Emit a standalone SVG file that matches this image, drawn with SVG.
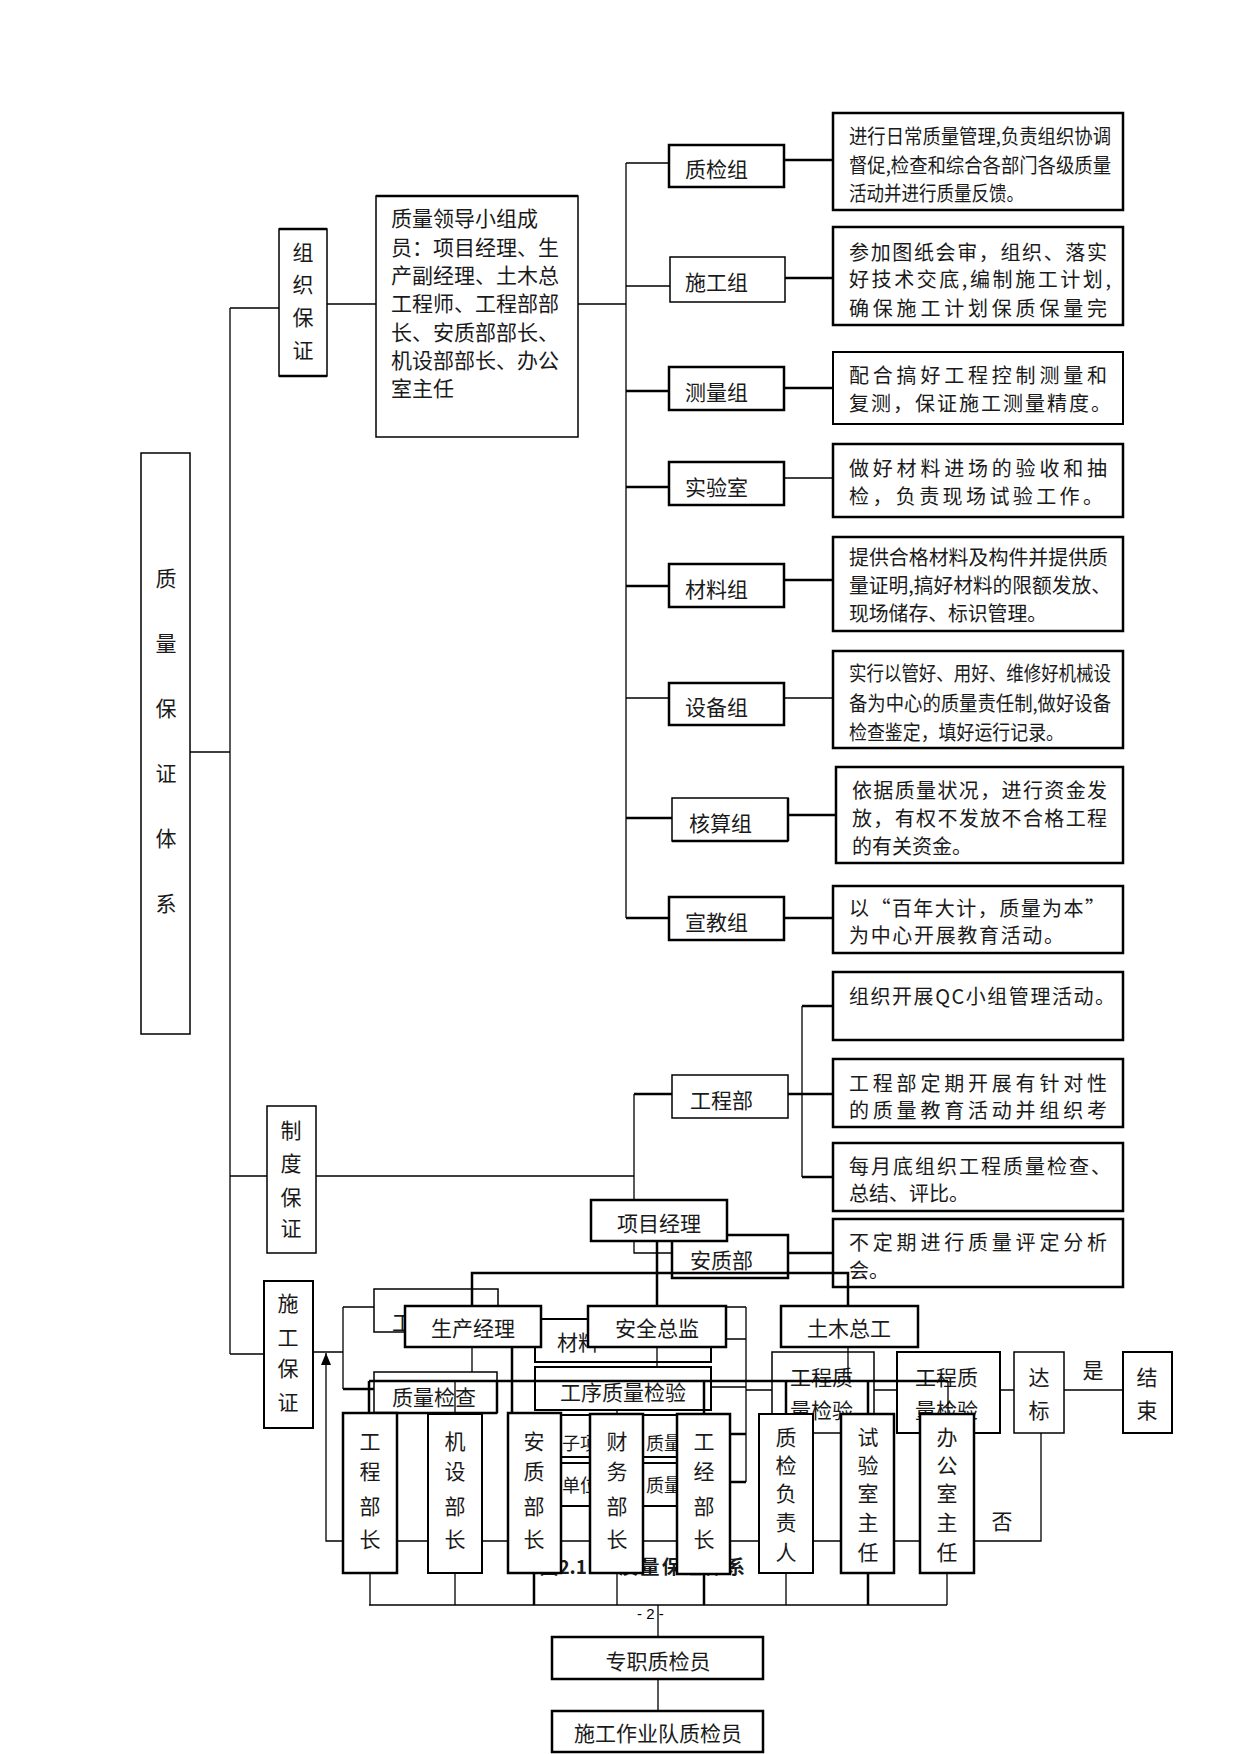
<svg xmlns="http://www.w3.org/2000/svg" width="1241" height="1754" viewBox="0 0 1241 1754">
<style>
.b{fill:#fff;stroke:#000;stroke-width:1.5}
.bt{fill:#fff;stroke:#000;stroke-width:2.5}
.t{font-family:"Noto Sans CJK SC","Liberation Sans",sans-serif;font-size:21px;fill:#1a1a1a}
.s{font-size:20px}
.m{font-size:18px}
.c{text-anchor:middle}
.bd{font-weight:bold;font-size:19px}
.ln{stroke:#000;stroke-width:1.3;fill:none}
.lt{stroke:#000;stroke-width:2.5;fill:none}
</style>
<defs>
<marker id="arr" markerWidth="12" markerHeight="12" refX="12" refY="5" orient="auto" markerUnits="userSpaceOnUse"><path d="M0,0 L12,5 L0,10 z" fill="#000"/></marker>
</defs>
<rect width="1241" height="1754" fill="#fff"/>

<!-- lower layer nodes -->
<g id="n-main"><rect class="b" x="141" y="453" width="49" height="581"/>
<text class="t c"><tspan x="166" y="586">质</tspan><tspan x="166" y="651">量</tspan><tspan x="166" y="716">保</tspan><tspan x="166" y="781">证</tspan><tspan x="166" y="846">体</tspan><tspan x="166" y="911">系</tspan></text></g>

<g id="n-zuzhi"><rect class="b" x="279" y="229" width="48" height="147"/><line class="lt" x1="279" y1="229" x2="327" y2="229"/><line class="lt" x1="279" y1="376" x2="327" y2="376"/>
<text class="t c"><tspan x="303" y="260">组</tspan><tspan x="303" y="292">织</tspan><tspan x="303" y="325">保</tspan><tspan x="303" y="358">证</tspan></text></g>

<g id="n-lingdao"><rect class="b" x="376" y="196" width="202" height="241"/><line class="lt" x1="376" y1="196" x2="578" y2="196"/>
<text class="t"><tspan x="391" y="226">质量领导小组成</tspan><tspan x="391" y="255">员：项目经理、生</tspan><tspan x="391" y="283">产副经理、土木总</tspan><tspan x="391" y="311">工程师、工程部部</tspan><tspan x="391" y="340">长、安质部部长、</tspan><tspan x="391" y="368">机设部部长、办公</tspan><tspan x="391" y="396">室主任</tspan></text></g>

<g id="n-zhijian"><rect class="bt" x="669" y="145" width="115" height="42"/><text class="t" x="685" y="177">质检组</text></g>
<g id="n-shigong"><rect class="b" x="670" y="257" width="115" height="45"/><text class="t" x="685" y="290">施工组</text></g>
<g id="n-celiang"><rect class="bt" x="669" y="367" width="115" height="43"/><text class="t" x="685" y="400">测量组</text></g>
<g id="n-shiyan"><rect class="bt" x="669" y="462" width="115" height="43"/><text class="t" x="685" y="495">实验室</text></g>
<g id="n-cailiao"><rect class="bt" x="669" y="564" width="115" height="43"/><text class="t" x="685" y="597">材料组</text></g>
<g id="n-shebei"><rect class="bt" x="669" y="683" width="115" height="42"/><text class="t" x="685" y="715">设备组</text></g>
<g id="n-hesuan"><rect class="b" x="672" y="798" width="116" height="43"/><line class="lt" x1="788" y1="798" x2="788" y2="841"/><line class="lt" x1="672" y1="841" x2="788" y2="841"/><text class="t" x="689" y="831">核算组</text></g>
<g id="n-xuanjiao"><rect class="bt" x="669" y="897" width="115" height="43"/><text class="t" x="685" y="930">宣教组</text></g>

<g id="d1"><rect class="bt" x="833" y="113" width="290" height="97"/>
<text class="t s"><tspan x="849" y="144" textLength="262" lengthAdjust="spacingAndGlyphs">进行日常质量管理,负责组织协调</tspan><tspan x="849" y="173" textLength="262" lengthAdjust="spacingAndGlyphs">督促,检查和综合各部门各级质量</tspan><tspan x="849" y="201" textLength="175" lengthAdjust="spacingAndGlyphs">活动并进行质量反馈。</tspan></text></g>
<g id="d2"><rect class="bt" x="833" y="227" width="290" height="98"/>
<text class="t s"><tspan x="849" y="260" textLength="258">参加图纸会审，组织、落实</tspan><tspan x="849" y="287" textLength="262">好技术交底,编制施工计划,</tspan><tspan x="849" y="316" textLength="258">确保施工计划保质保量完</tspan></text></g>
<g id="d3"><rect class="b" x="833" y="352" width="290" height="72" style="stroke-width:2"/>
<text class="t s"><tspan x="849" y="383" textLength="258">配合搞好工程控制测量和</tspan><tspan x="849" y="411" textLength="262">复测，保证施工测量精度。</tspan></text></g>
<g id="d4"><rect class="bt" x="833" y="444" width="290" height="73"/>
<text class="t s"><tspan x="849" y="476" textLength="258">做好材料进场的验收和抽</tspan><tspan x="849" y="504" textLength="254">检，负责现场试验工作。</tspan></text></g>
<g id="d5"><rect class="bt" x="833" y="537" width="290" height="94"/>
<text class="t s"><tspan x="849" y="565" textLength="259" lengthAdjust="spacingAndGlyphs">提供合格材料及构件并提供质</tspan><tspan x="849" y="593" textLength="262" lengthAdjust="spacingAndGlyphs">量证明,搞好材料的限额发放、</tspan><tspan x="849" y="621" textLength="198" lengthAdjust="spacingAndGlyphs">现场储存、标识管理。</tspan></text></g>
<g id="d6"><rect class="bt" x="833" y="651" width="290" height="97"/>
<text class="t s"><tspan x="849" y="681" textLength="262" lengthAdjust="spacingAndGlyphs">实行以管好、用好、维修好机械设</tspan><tspan x="849" y="711" textLength="262" lengthAdjust="spacingAndGlyphs">备为中心的质量责任制,做好设备</tspan><tspan x="849" y="740" textLength="215" lengthAdjust="spacingAndGlyphs">检查鉴定，填好运行记录。</tspan></text></g>
<g id="d7"><rect class="bt" x="836" y="767" width="287" height="96"/>
<text class="t s"><tspan x="852" y="798" textLength="255">依据质量状况，进行资金发</tspan><tspan x="852" y="826" textLength="255">放，有权不发放不合格工程</tspan><tspan x="852" y="854">的有关资金。</tspan></text></g>
<g id="d8"><rect class="bt" x="833" y="886" width="290" height="67"/>
<text class="t s"><tspan x="849" y="916" textLength="256">以“百年大计，质量为本”</tspan><tspan x="849" y="943" textLength="215">为中心开展教育活动。</tspan></text></g>
<g id="d9"><rect class="bt" x="833" y="972" width="290" height="68"/>
<text class="t s" x="849" y="1004" textLength="266">组织开展QC小组管理活动。</text></g>
<g id="d10"><rect class="bt" x="833" y="1059" width="290" height="68"/>
<text class="t s"><tspan x="849" y="1091" textLength="258">工程部定期开展有针对性</tspan><tspan x="849" y="1118" textLength="258">的质量教育活动并组织考</tspan></text></g>
<g id="d11"><rect class="bt" x="833" y="1143" width="290" height="68"/>
<text class="t s"><tspan x="849" y="1174" textLength="262">每月底组织工程质量检查、</tspan><tspan x="849" y="1201">总结、评比。</tspan></text></g>
<g id="d12"><rect class="bt" x="833" y="1219" width="290" height="68"/>
<text class="t s"><tspan x="849" y="1250" textLength="258">不定期进行质量评定分析</tspan><tspan x="849" y="1278">会。</tspan></text></g>

<g id="n-zhidu"><rect class="b" x="267" y="1106" width="49" height="147"/>
<text class="t c"><tspan x="291" y="1138">制</tspan><tspan x="291" y="1171">度</tspan><tspan x="291" y="1205">保</tspan><tspan x="291" y="1236">证</tspan></text></g>
<g id="n-shigongbz"><rect class="b" x="264" y="1281" width="49" height="147" style="stroke-width:2"/>
<text class="t c"><tspan x="288" y="1311">施</tspan><tspan x="288" y="1345">工</tspan><tspan x="288" y="1376">保</tspan><tspan x="288" y="1410">证</tspan></text></g>

<g id="n-gongchengbu"><rect class="b" x="672" y="1075" width="116" height="43"/><text class="t" x="690" y="1108">工程部</text></g>
<g id="n-anzhibu"><rect class="bt" x="672" y="1235" width="116" height="43"/><text class="t" x="690" y="1268">安质部</text></g>

<g id="n-gong-hidden"><rect class="b" x="374" y="1289" width="124" height="43"/><text class="t" x="392" y="1330">工</text></g>
<g id="n-cailiao-hidden"><rect class="b" x="535" y="1319" width="176" height="43" style="stroke-width:2"/><text class="t" x="557" y="1350">材料</text></g>
<g id="n-zhiliangjiancha"><rect class="b" x="374" y="1372" width="123" height="41"/><line class="lt" x1="374" y1="1413" x2="497" y2="1413"/><line class="lt" x1="497" y1="1381" x2="497" y2="1413"/><text class="t c" x="434" y="1405">质量检查</text></g>
<g id="n-gongxu"><rect class="b" x="535" y="1367" width="176" height="43" style="stroke-width:2"/><text class="t c" x="623" y="1400">工序质量检验</text></g>
<g id="n-gcA"><rect class="b" x="772" y="1352" width="102" height="81"/><text class="t"><tspan x="790" y="1385">工程质</tspan><tspan x="790" y="1418">量检验</tspan></text></g>
<g id="n-gcB"><rect class="b" x="897" y="1352" width="103" height="81" style="stroke-width:2"/><text class="t"><tspan x="915" y="1385">工程质</tspan><tspan x="915" y="1418">量检验</tspan></text></g>
<g id="n-dabiao"><rect class="b" x="1014" y="1352" width="50" height="81"/><text class="t c"><tspan x="1039" y="1385">达</tspan><tspan x="1039" y="1418">标</tspan></text></g>
<g id="n-jieshu"><rect class="b" x="1123" y="1352" width="49" height="81" style="stroke-width:2"/><text class="t c"><tspan x="1147" y="1385">结</tspan><tspan x="1147" y="1418">束</tspan></text></g>
<g id="n-ziixiang"><rect class="b" x="545" y="1415" width="155" height="42" style="stroke-width:2"/><text class="t m" x="562" y="1450">子项</text><text class="t m" x="646" y="1450">质量</text></g>
<g id="n-danwei"><rect class="b" x="545" y="1463" width="155" height="43" style="stroke-width:2"/><text class="t m" x="562" y="1492">单位</text><text class="t m" x="646" y="1492">质量</text></g>
<g id="caption"><text class="t bd" x="587" y="1574" text-anchor="end">图2.1</text><text class="t bd" x="619" y="1574" textLength="126">质量保证体系</text></g>
<text class="t" x="1093" y="1378" text-anchor="middle">是</text>
<text class="t" x="1002" y="1529" text-anchor="middle">否</text>
<text x="637" y="1619" style="font-family:'Liberation Sans',sans-serif;font-size:15px" fill="#000">- 2 -</text>

<g id="connectors">
<path class="ln" d="M190,752 H230 M230,308 V1354 M230,308 H279 M230,1176 H267 M230,1354 H264"/>
<path class="ln" d="M327,304 H376 M578,304 H626 M626,163 V918"/>
<path class="ln" d="M626,163 H669 M626,286 H670 M626,698 H669 M784,478 H833 M784,698 H833"/>
<path class="lt" d="M626,391 H669 M626,487 H669 M626,586 H669 M626,818 H672 M626,918 H669"/>
<path class="lt" d="M784,160 H833 M785,278 H833 M784,388 H833 M784,580 H833 M788,815 H836 M784,918 H833"/>
<path class="ln" d="M316,1176 H634 M634,1094 V1253 H672 M802,1006 V1177"/>
<path class="lt" d="M634,1094 H672 M788,1094 H802 M802,1006 H833 M802,1094 H833 M802,1177 H833 M788,1253 H833"/>
<path class="lt" d="M657,1241 V1306 M472,1306 V1273 H848 V1306"/>
<path class="ln" d="M313,1352 H343 M343,1307 V1389 M343,1307 H374"/>
<path class="lt" d="M343,1389 H374"/>
<path class="ln" d="M1041,1433 V1541 H326 V1353" marker-end="url(#arr)"/>
<path class="lt" d="M369,1381 H948 M369,1381 V1413 M704,1381 V1414 M786,1381 V1414 M868,1381 V1414 M512,1347 V1413"/>
<path class="ln" d="M455,1381 V1413 M948,1381 V1414 M472,1347 V1372 M657,1347 V1367 M617,1410 V1414 M848,1347 V1381"/>
<path class="ln" d="M726,1307 H746 M726,1339 H746 M746,1307 V1482 M711,1387 H746 M746,1390 H772 M874,1390 H897 M1000,1390 H1014 M1064,1390 H1123"/>
<path class="lt" d="M730,1434 H746 M730,1482 H746"/>
<path class="ln" d="M370,1573 V1605 M455,1573 V1605 M617,1573 V1605 M786,1573 V1605 M947,1573 V1605 M369,1605 H947 M658,1605 V1637 M658,1679 V1711"/>
<path class="lt" d="M534,1573 V1605 M704,1573 V1605 M868,1573 V1605"/>
</g>

<!-- upper layer nodes -->
<g id="n-xiangmu"><rect class="bt" x="591" y="1200" width="136" height="41"/><text class="t c" x="659" y="1231">项目经理</text></g>
<g id="n-shengchan"><rect class="bt" x="405" y="1306" width="136" height="41"/><text class="t c" x="473" y="1336">生产经理</text></g>
<g id="n-anquan"><rect class="bt" x="588" y="1306" width="138" height="41"/><text class="t c" x="657" y="1336">安全总监</text></g>
<g id="n-tumu"><rect class="bt" x="781" y="1306" width="137" height="41"/><text class="t c" x="849" y="1336">土木总工</text></g>

<g id="n-gcbz"><rect class="bt" x="343" y="1413" width="54" height="160"/><text class="t c"><tspan x="370" y="1449">工</tspan><tspan x="370" y="1479">程</tspan><tspan x="370" y="1514">部</tspan><tspan x="370" y="1547">长</tspan></text></g>
<g id="n-jsbz"><rect class="b" x="428" y="1414" width="54" height="159" style="stroke-width:2"/><text class="t c"><tspan x="455" y="1449">机</tspan><tspan x="455" y="1479">设</tspan><tspan x="455" y="1514">部</tspan><tspan x="455" y="1547">长</tspan></text></g>
<g id="n-azbz"><rect class="bt" x="508" y="1413" width="53" height="160"/><text class="t c"><tspan x="534" y="1449">安</tspan><tspan x="534" y="1479">质</tspan><tspan x="534" y="1514">部</tspan><tspan x="534" y="1547">长</tspan></text></g>
<g id="n-cwbz"><rect class="bt" x="590" y="1414" width="53" height="159"/><text class="t c"><tspan x="617" y="1449">财</tspan><tspan x="617" y="1479">务</tspan><tspan x="617" y="1514">部</tspan><tspan x="617" y="1547">长</tspan></text></g>
<g id="n-gjbz"><rect class="bt" x="677" y="1414" width="53" height="160"/><text class="t c"><tspan x="704" y="1449">工</tspan><tspan x="704" y="1479">经</tspan><tspan x="704" y="1514">部</tspan><tspan x="704" y="1547">长</tspan></text></g>
<g id="n-zjfzr"><rect class="b" x="759" y="1414" width="54" height="159" style="stroke-width:2"/><text class="t c"><tspan x="786" y="1445">质</tspan><tspan x="786" y="1473">检</tspan><tspan x="786" y="1501">负</tspan><tspan x="786" y="1530">责</tspan><tspan x="786" y="1560">人</tspan></text></g>
<g id="n-sysz"><rect class="bt" x="841" y="1414" width="53" height="159"/><text class="t c"><tspan x="868" y="1445">试</tspan><tspan x="868" y="1473">验</tspan><tspan x="868" y="1501">室</tspan><tspan x="868" y="1530">主</tspan><tspan x="868" y="1560">任</tspan></text></g>
<g id="n-bgsz"><rect class="bt" x="920" y="1414" width="54" height="159"/><text class="t c"><tspan x="947" y="1445">办</tspan><tspan x="947" y="1473">公</tspan><tspan x="947" y="1501">室</tspan><tspan x="947" y="1530">主</tspan><tspan x="947" y="1560">任</tspan></text></g>

<g id="n-zhuanzhi"><rect class="bt" x="552" y="1637" width="211" height="42"/><text class="t c" x="658" y="1669">专职质检员</text></g>
<g id="n-duiwu"><rect class="bt" x="552" y="1711" width="211" height="41"/><text class="t c" x="658" y="1741">施工作业队质检员</text></g>
</svg>
